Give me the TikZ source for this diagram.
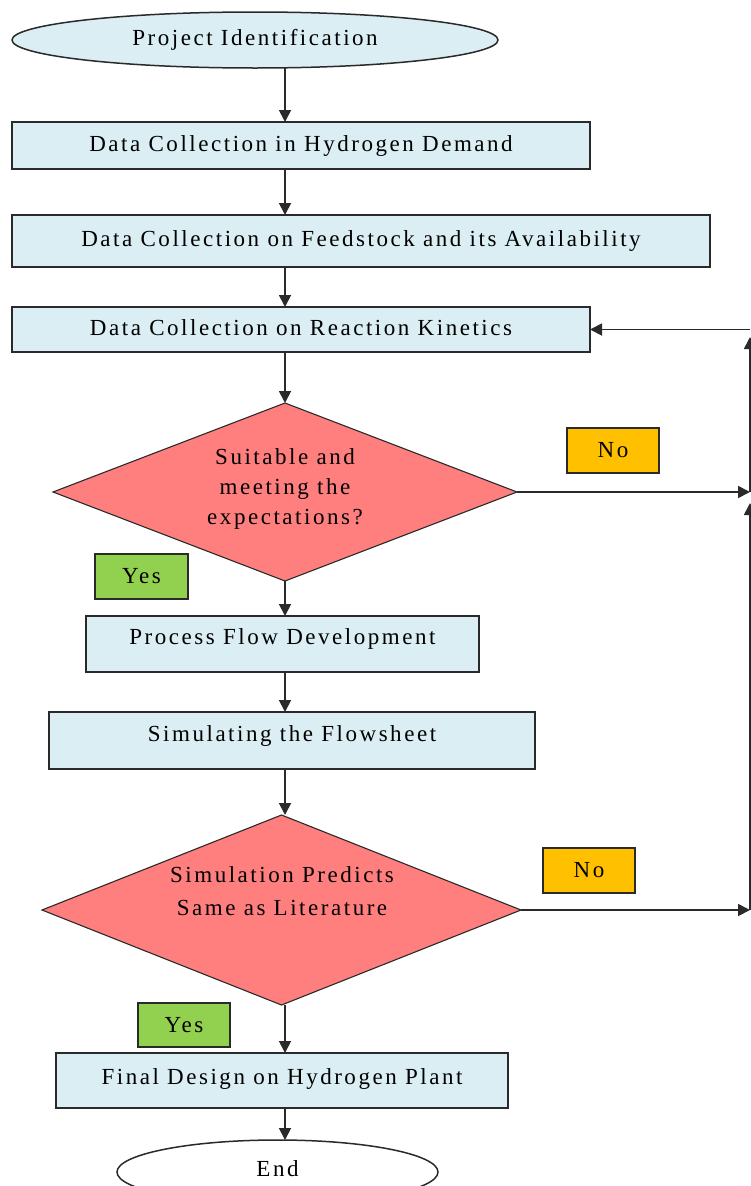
\documentclass[tikz,border=0pt]{standalone}
\usepackage{fontspec}
\setmainfont{Liberation Serif}[LetterSpace=11]
\usetikzlibrary{shapes.geometric,arrows.meta}
\definecolor{boxblue}{HTML}{DAEEF3}
\definecolor{diared}{HTML}{FF7F7F}
\definecolor{noorange}{HTML}{FFC000}
\definecolor{yesgreen}{HTML}{92D050}
\definecolor{linegray}{HTML}{2A2A2A}
\begin{document}
\begin{tikzpicture}[x=1pt,y=-1pt,
  every node/.style={font=\fontsize{23}{28}\selectfont, inner sep=0pt, outer sep=0pt},
  box/.style={draw=linegray, line width=1.5pt, fill=boxblue, rectangle},
  dia/.style={draw=linegray, line width=1.1pt, fill=diared, diamond},
  term/.style={draw=linegray, line width=1.5pt, ellipse},
  nobox/.style={draw=linegray, line width=1.5pt, fill=noorange, minimum width=92pt, minimum height=45pt},
  yesbox/.style={draw=linegray, line width=1.5pt, fill=yesgreen, minimum width=93pt, minimum height=45pt},
  arr/.style={draw=linegray, line width=1.8pt, -{Triangle[length=12pt,width=12pt]}}
]
\useasboundingbox (0,0) rectangle (750,1186);

\node[term, fill=boxblue, minimum width=486pt, minimum height=56pt] (start) at (255,40) {\raisebox{2pt}{Project Identification}};

\node[box, minimum width=578pt, minimum height=47pt] (b1) at (301,145.5) {\raisebox{2pt}{Data Collection in Hydrogen Demand}};
\node[box, minimum width=698pt, minimum height=52pt] (b2) at (361,241) {\raisebox{5pt}{Data Collection on Feedstock and its Availability}};
\node[box, minimum width=578pt, minimum height=45pt] (b3) at (301,329.5) {\raisebox{3pt}{Data Collection on Reaction Kinetics}};

\node[dia, minimum width=464pt, minimum height=178pt] (d1) at (285,492) {};
\node[align=center, font=\fontsize{23}{30}\selectfont] (d1t) at (285,489) {Suitable and\\meeting the\\expectations?};

\node[nobox] (no1) at (613,450.5) {No};
\node[yesbox] (yes1) at (141.5,576.5) {Yes};

\node[box, minimum width=393pt, minimum height=56pt] (b4) at (282.5,644) {\raisebox{15pt}{Process Flow Development}};
\node[box, minimum width=486pt, minimum height=57pt] (b5) at (292,740.5) {\raisebox{14pt}{Simulating the Flowsheet}};

\node[dia, minimum width=479pt, minimum height=190pt] (d2) at (281.5,910) {};
\node[align=center, font=\fontsize{23}{33}\selectfont] (d2t) at (282,891) {Simulation Predicts\\Same as Literature};

\node[nobox] (no2) at (589,870.5) {No};
\node[yesbox, minimum width=92pt, minimum height=44pt] (yes2) at (184,1025) {Yes};

\node[box, minimum width=452pt, minimum height=55pt] (b6) at (282,1080.5) {\raisebox{8pt}{Final Design on Hydrogen Plant}};

\node[term, fill=white, minimum width=321pt, minimum height=64pt] (end) at (277.5,1172) {\raisebox{6pt}{End}};

% main flow
\draw[arr] (start.south -| 285,0) -- (b1.north -| 285,0);
\draw[arr] (b1.south -| 285,0) -- (b2.north -| 285,0);
\draw[arr] (b2.south -| 285,0) -- (b3.north -| 285,0);
\draw[arr] (b3.south -| 285,0) -- (d1.north);
\draw[arr] (d1.south) -- (b4.north -| 285,0);
\draw[arr] (b4.south -| 285,0) -- (b5.north -| 285,0);
\draw[arr] (b5.south -| 285,0) -- (d2.north -| 285,0);
\draw[arr] (d2.south -| 285,0) -- (b6.north -| 285,0);
\draw[arr] (b6.south -| 285,0) -- (end.north -| 285,0);

% feedback loops
\coordinate (r1) at (750,492);
\coordinate (r2) at (750,910);
\coordinate (rt) at (750,329.5);
\coordinate (r1up) at (750,503);
\coordinate (rtup) at (750,337);
\draw[arr] (d1.east) -- (r1);
\draw[arr] (d2.east) -- (r2);
\draw[arr] (r2) -- (r1up);
\draw[arr] (r1) -- (rtup);
\draw[arr] (rt) -- (b3.east);
\end{tikzpicture}
\end{document}
